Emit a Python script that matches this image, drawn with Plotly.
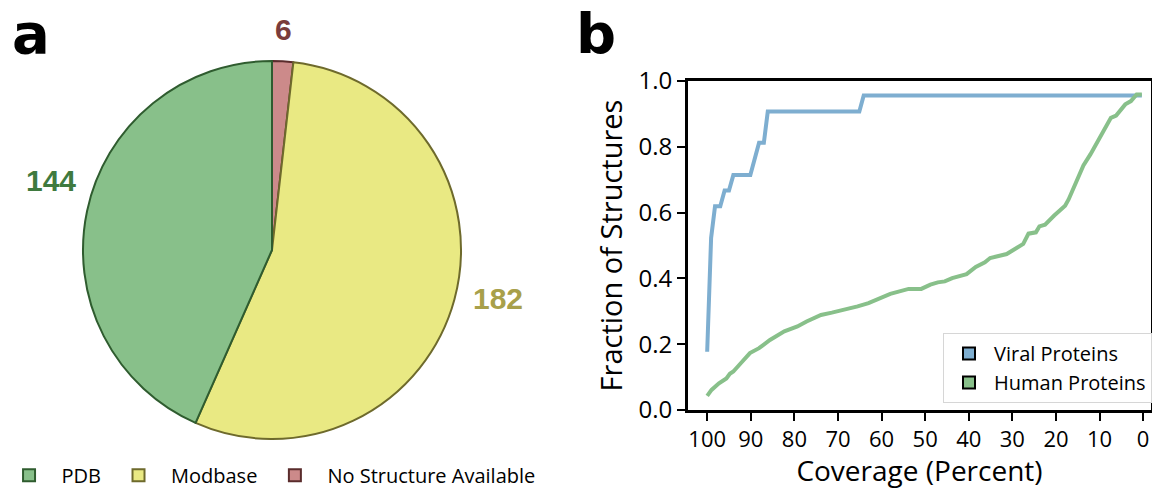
import plotly.graph_objects as go

# ---- Panel a: structure availability ----
pie_labels = ["No Structure Available", "Modbase", "PDB"]
pie_values = [6, 182, 144]
pie_colors = ["#cc8a8a", "#e9e983", "#88c08a"]
pie_edges = ["#5a2c2c", "#6e6a2c", "#2f5c2f"]
pie_text_colors = ["#7a3c3c", "#a8a04a", "#3f7a3f"]

# ---- Panel b: coverage curves ----
viral_x = [100, 99.1, 98.2, 97.0, 96.0, 95.0, 94.0, 90.1, 88.1, 87.0, 86.1, 65.1, 64.1, 0.3]
viral_y = [0.177, 0.523, 0.619, 0.619, 0.667, 0.667, 0.714, 0.714, 0.812, 0.812, 0.907, 0.907, 0.956, 0.956]

human_x = [100, 99, 97.3, 95.6, 94.8, 94, 92.3, 90.2, 88.1, 85.6, 82.3, 79.3, 77.2, 73.9,
           71.4, 68.9, 65.5, 63, 60.5, 58, 53.8, 50.9, 48.8, 47.1, 45.5, 43.8, 40.5, 38.4,
           36.3, 35.1, 31.3, 29.6, 27.5, 26.3, 24.6, 23.8, 22.5, 20.4, 17.9, 17.1, 15.4,
           13.7, 12.1, 10.4, 9.1, 7.4, 6.2, 4.1, 2.8, 1.5, 0.3]
human_y = [0.043, 0.061, 0.081, 0.096, 0.11, 0.117, 0.142, 0.173, 0.188, 0.213, 0.239, 0.254,
           0.269, 0.289, 0.296, 0.303, 0.315, 0.325, 0.34, 0.353, 0.368, 0.368, 0.381, 0.388,
           0.391, 0.401, 0.413, 0.435, 0.449, 0.462, 0.474, 0.489, 0.505, 0.536, 0.54, 0.558,
           0.563, 0.591, 0.621, 0.64, 0.692, 0.743, 0.777, 0.817, 0.853, 0.888, 0.895, 0.929,
           0.939, 0.959, 0.959]

series_names = ["Viral Proteins", "Human Proteins"]
series_colors = ["#7eaed0", "#88c08a"]

x_ticks = [100, 90, 80, 70, 60, 50, 40, 30, 20, 10, 0]
y_ticks = [0.0, 0.2, 0.4, 0.6, 0.8, 1.0]

FONT = "Open Sans"
W, H = 1152, 489

fig = go.Figure()

fig.add_trace(go.Pie(
    labels=pie_labels, values=pie_values, sort=False, direction="clockwise",
    rotation=0, textinfo="none", hoverinfo="label+value",
    marker=dict(colors=pie_colors, line=dict(color=pie_edges, width=2)),
    domain=dict(x=[83 / W, 461 / W], y=[(H - 439) / H, (H - 61) / H]),
    legend="legend",
))

for xs, ys, nm, col in [(viral_x, viral_y, series_names[0], series_colors[0]),
                        (human_x, human_y, series_names[1], series_colors[1])]:
    fig.add_trace(go.Scatter(x=xs, y=ys, mode="lines", name=nm, showlegend=False,
                             line=dict(color=col, width=4), xaxis="x", yaxis="y"))
# legend entries (boxed swatches, as in the original)
for nm, col in zip(series_names, series_colors):
    fig.add_trace(go.Bar(x=[None], y=[None], name=nm, legend="legend2",
                         marker=dict(color=col, line=dict(color="black", width=2)),
                         xaxis="x", yaxis="y"))

# value labels for pie
label_pos = {"No Structure Available": (283, 30), "Modbase": (498, 298), "PDB": (51, 180)}
for lab, v, c in zip(pie_labels, pie_values, pie_text_colors):
    px, py = label_pos[lab]
    fig.add_annotation(text=f"<b>{v}</b>", x=px / W, y=1 - py / H, xref="paper", yref="paper",
                       showarrow=False, font=dict(family="Liberation Sans", size=30, color=c),
                       xanchor="center", yanchor="middle")

for letter, px in [("a", 31), ("b", 596)]:
    fig.add_annotation(text=f"<b>{letter}</b>", x=px / W, y=1.0, xref="paper", yref="paper",
                       showarrow=False, font=dict(family="DejaVu Sans", size=56, color="black"),
                       xanchor="center", yanchor="top", borderpad=0)

fig.update_layout(
    width=W, height=H,
    margin=dict(l=0, r=0, t=0, b=0, autoexpand=False),
    paper_bgcolor="white", plot_bgcolor="white",
    font=dict(family=FONT, color="black"),
    showlegend=True,
    legend=dict(orientation="h", x=-0.003, y=-0.012, xanchor="left", yanchor="bottom",
                traceorder="reversed", itemwidth=55,
                font=dict(size=20, family=FONT), bgcolor="rgba(0,0,0,0)"),
    legend2=dict(x=1.0, y=(H - 403) / H, xanchor="right", yanchor="bottom",
                 font=dict(size=20, family=FONT), bgcolor="white", itemwidth=40,
                 bordercolor="#d6d6d6", borderwidth=1, tracegroupgap=0),
    xaxis=dict(domain=[688 / W, 1151 / W], range=[104.4, -1.8], automargin=False,
               tickvals=x_ticks, ticktext=[str(t) for t in x_ticks],
               ticks="outside", ticklen=8, tickwidth=2, tickcolor="black",
               showline=True, linewidth=3, linecolor="black", mirror=True,
               showgrid=False, zeroline=False, tickfont=dict(size=22),
               title=dict(text="Coverage (Percent)", font=dict(size=28), standoff=4)),
    yaxis=dict(domain=[(H - 410) / H, (H - 81) / H], range=[0, 1], automargin=False,
               tickvals=y_ticks, ticktext=[f"{t:.1f}" for t in y_ticks],
               ticks="outside", ticklen=8, tickwidth=2, tickcolor="black",
               showline=True, linewidth=3, linecolor="black", mirror=True,
               showgrid=False, zeroline=False, tickfont=dict(size=24),
               title=dict(text="Fraction of Structures", font=dict(size=29), standoff=8)),
)

fig.write_html("out.html", config={"displayModeBar": False},
               post_script="document.body.style.margin='0px';")
